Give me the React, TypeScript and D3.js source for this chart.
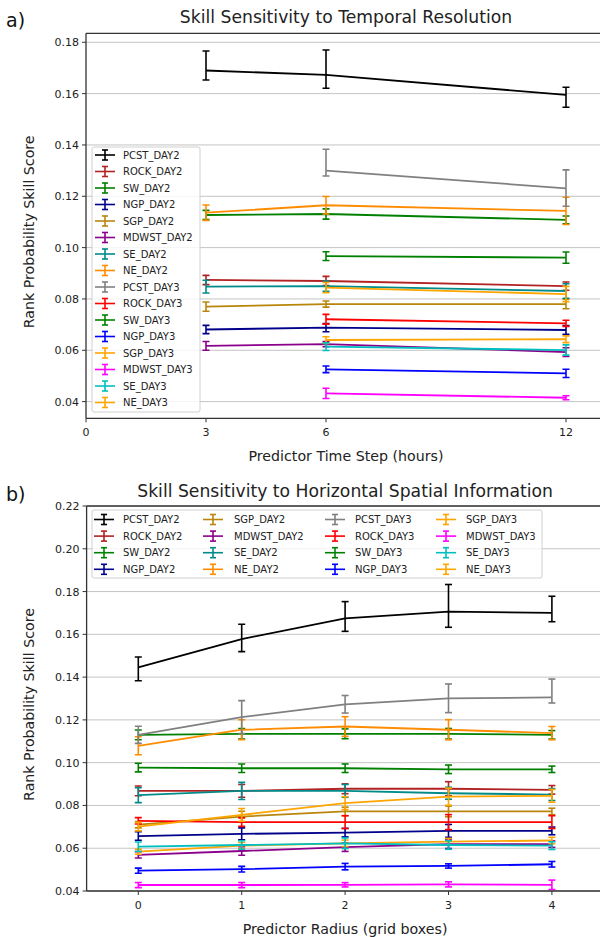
import React from "react";
import * as d3 from "d3";

const FONT = "'DejaVu Sans', sans-serif";

// series, same order in both panels
const seriesNames = [
  "PCST_DAY2", "ROCK_DAY2", "SW_DAY2", "NGP_DAY2", "SGP_DAY2", "MDWST_DAY2", "SE_DAY2", "NE_DAY2",
  "PCST_DAY3", "ROCK_DAY3", "SW_DAY3", "NGP_DAY3", "SGP_DAY3", "MDWST_DAY3", "SE_DAY3", "NE_DAY3",
];
const seriesColors = [
  "#000000", "#b22222", "#008000", "#00008b", "#b8860b", "#8b008b", "#008b8b", "#ff8c00",
  "#808080", "#ff0000", "#008000", "#0000ff", "#ffa500", "#ff00ff", "#00bfbf", "#ffa500",
];

type Err = number | [number, number]; // symmetric, or [down, up]

// panel a) predictor time step (hours)
const timeSteps = [3, 6, 12];
const timeTicks = [0, 3, 6, 12];
const timeVals: (number | null)[][] = [
  [0.169, 0.1673, 0.1595],
  [0.0874, 0.087, 0.085],
  [0.1127, 0.1131, 0.1108],
  [0.0681, 0.0688, 0.0679],
  [0.077, 0.078, 0.078],
  [0.0617, 0.0624, 0.0593],
  [0.0848, 0.085, 0.0831],
  [0.1136, 0.1165, 0.1143],
  [null, 0.13, 0.1231],
  [null, 0.0721, 0.0705],
  [null, 0.0967, 0.0961],
  [null, 0.0526, 0.051],
  [null, 0.064, 0.0643],
  [null, 0.0432, 0.0415],
  [null, 0.0614, 0.0601],
  [null, 0.0844, 0.0819],
];
const timeErrs: Err[][] = [
  [[0.0037, 0.0076], [0.0052, 0.0097], [0.0048, 0.003]],
  [0.0018, 0.0018, 0.0016],
  [0.0018, 0.002, 0.0015],
  [0.0016, 0.0016, 0.0017],
  [0.0018, 0.0012, 0.0018],
  [0.0017, 0.001, 0.0017],
  [0.0025, 0.002, 0.0028],
  [0.003, 0.0034, 0.0053],
  [0, [0.0021, 0.0083], [0.007, 0.0072]],
  [0, 0.0019, 0.0012],
  [0, 0.0017, 0.0022],
  [0, 0.0013, 0.0016],
  [0, 0.0013, 0.0013],
  [0, 0.002, 0.0008],
  [0, 0.0015, 0.002],
  [0, 0.002, 0.003],
];

// panel b) predictor radius (grid boxes)
const radii = [0, 1, 2, 3, 4];
const radiusVals: number[][] = [
  [0.1446, 0.1578, 0.1675, 0.1706, 0.17],
  [0.0868, 0.0868, 0.0878, 0.0878, 0.0873],
  [0.113, 0.1135, 0.1135, 0.1135, 0.113],
  [0.0657, 0.0667, 0.0673, 0.0681, 0.0681],
  [0.071, 0.0748, 0.0772, 0.0772, 0.0772],
  [0.0569, 0.0587, 0.0605, 0.0619, 0.0619],
  [0.0848, 0.0868, 0.0868, 0.0857, 0.0851],
  [0.1079, 0.1154, 0.1169, 0.1154, 0.1138],
  [0.113, 0.1213, 0.1273, 0.1301, 0.1305],
  [0.0728, 0.0722, 0.0722, 0.0722, 0.0722],
  [0.0977, 0.0974, 0.0974, 0.0969, 0.0969],
  [0.0495, 0.0502, 0.0514, 0.0517, 0.0525],
  [0.0584, 0.0612, 0.0623, 0.0631, 0.0636],
  [0.0428, 0.0428, 0.0429, 0.0431, 0.0429],
  [0.0607, 0.0615, 0.0623, 0.0615, 0.0612],
  [0.0701, 0.0756, 0.0811, 0.0841, 0.0845],
];
const radiusErrs: Err[][] = [
  [[0.0063, 0.0048], [0.0059, 0.0069], [0.0061, 0.0078], [0.0073, 0.0127], [0.0041, 0.0078]],
  [0.0023, 0.003, 0.0023, 0.0033, 0.002],
  [0.0023, 0.0025, 0.0023, 0.0025, 0.002],
  [0.002, 0.0028, 0.002, 0.003, 0.0018],
  [0.0015, 0.0025, 0.002, 0.0025, 0.0015],
  [0.0015, 0.002, 0.002, 0.002, 0.0015],
  [0.0035, 0.004, 0.003, 0.0028, 0.0028],
  [0.0042, 0.0047, 0.0046, 0.0047, 0.0031],
  [0.004, 0.0077, 0.0041, 0.0067, [0.0026, 0.0086]],
  [0.0015, 0.002, 0.003, 0.0035, 0.003],
  [0.002, 0.002, 0.002, 0.002, 0.0015],
  [0.0012, 0.0013, 0.0015, 0.001, 0.0013],
  [0.0012, 0.0015, 0.0015, 0.0015, 0.0015],
  [0.0012, 0.0012, 0.001, 0.0012, 0.0022],
  [0.0022, 0.002, 0.0025, 0.002, 0.0018],
  [0.002, 0.003, 0.003, 0.004, 0.003],
];

const yTicksA = [0.04, 0.06, 0.08, 0.1, 0.12, 0.14, 0.16, 0.18];
const yTicksB = [0.04, 0.06, 0.08, 0.1, 0.12, 0.14, 0.16, 0.18, 0.2, 0.22];

type Legend = {
  box: [number, number, number, number];
  items: { x: number; y: number; tx: number }[];
};

type PanelProps = {
  id: string;
  tag: string;
  tagY: number;
  title: string;
  titleY: number;
  xlabel: string;
  xs: number[];
  xTicks: number[];
  vals: (number | null)[][];
  errs: Err[][];
  xDomain: [number, number];
  xRange: [number, number];
  yDomain: [number, number];
  yRange: [number, number];
  yTicks: number[];
  legend: Legend;
};

const fmt = d3.format(".2f");

function Handle({ x, y, color }: { x: number; y: number; color: string }) {
  const cx = x + 10;
  return (
    <g stroke={color} strokeWidth={1.6}>
      <line x1={x} x2={x + 20} y1={y} y2={y} />
      <line x1={cx} x2={cx} y1={y - 5} y2={y + 5} />
      <line x1={cx - 3} x2={cx + 3} y1={y - 5} y2={y - 5} />
      <line x1={cx - 3} x2={cx + 3} y1={y + 5} y2={y + 5} />
    </g>
  );
}

function Panel(p: PanelProps) {
  const x = d3.scaleLinear().domain(p.xDomain).range(p.xRange);
  const y = d3.scaleLinear().domain(p.yDomain).range(p.yRange);
  const [x0, x1] = p.xRange;
  const [yb, yt] = p.yRange;
  const cx = (x0 + x1) / 2;
  const line = d3
    .line<number | null>()
    .defined((d) => d != null)
    .x((_, i) => x(p.xs[i]))
    .y((d) => y(d as number));
  const [bx, by, bw, bh] = p.legend.box;

  return (
    <g fontFamily={FONT}>
      <defs>
        <clipPath id={`clip-${p.id}`}>
          <rect x={x0} y={yt} width={x1 - x0} height={yb - yt} />
        </clipPath>
      </defs>
      {/* grid */}
      {p.yTicks.map((t) => (
        <line key={t} x1={x0} x2={x1} y1={y(t)} y2={y(t)} stroke="#c4c4c4" strokeWidth={1} />
      ))}
      {/* series */}
      <g clipPath={`url(#clip-${p.id})`} fill="none">
        {p.vals.map((vals, si) => {
          const c = seriesColors[si];
          return (
            <g key={si} stroke={c}>
              <path d={line(vals) || ""} strokeWidth={1.8} />
              {vals.map((v, i) => {
                if (v == null) return null;
                const e = p.errs[si][i];
                const [dn, up] = typeof e === "number" ? [e, e] : e;
                const px = x(p.xs[i]);
                const y1 = y(v + up);
                const y2 = y(v - dn);
                return (
                  <g key={i} strokeWidth={1.6}>
                    <line x1={px} x2={px} y1={y1} y2={y2} />
                    <line x1={px - 3.5} x2={px + 3.5} y1={y1} y2={y1} />
                    <line x1={px - 3.5} x2={px + 3.5} y1={y2} y2={y2} />
                  </g>
                );
              })}
            </g>
          );
        })}
      </g>
      {/* spines */}
      <g stroke="#333" strokeWidth={1.3} fill="none">
        <line x1={x0} x2={x0} y1={yt} y2={yb} />
        <line x1={x0} x2={x1} y1={yb} y2={yb} />
        <line x1={x0} x2={x1} y1={yt} y2={yt} />
        <line x1={x1} x2={x1} y1={yt} y2={yb} />
      </g>
      {/* y ticks */}
      {p.yTicks.map((t) => (
        <g key={t}>
          <line x1={x0 - 4} x2={x0} y1={y(t)} y2={y(t)} stroke="#333" strokeWidth={1} />
          <text x={x0 - 7} y={y(t) + 4} textAnchor="end" fontSize={11} fill="#222">
            {fmt(t)}
          </text>
        </g>
      ))}
      {/* x ticks */}
      {p.xTicks.map((t) => (
        <g key={t}>
          <line x1={x(t)} x2={x(t)} y1={yb} y2={yb + 4} stroke="#333" strokeWidth={1} />
          <text x={x(t)} y={yb + 18} textAnchor="middle" fontSize={11} fill="#222">
            {t}
          </text>
        </g>
      ))}
      <text x={cx} y={yb + 43} textAnchor="middle" fontSize={14.2} fill="#222">
        {p.xlabel}
      </text>
      <text
        transform={`translate(34,${(yt + yb) / 2 + 6}) rotate(-90)`}
        textAnchor="middle"
        fontSize={14.2}
        fill="#222"
      >
        Rank Probability Skill Score
      </text>
      <text x={cx} y={p.titleY} textAnchor="middle" fontSize={17.2} fill="#222">
        {p.title}
      </text>
      <text x={6} y={p.tagY} fontSize={19} fill="#111">
        {p.tag}
      </text>
      {/* legend */}
      <rect x={bx} y={by} width={bw} height={bh} rx={2} fill="#fff" fillOpacity={0.8} stroke="#d0d0d0" />
      {p.legend.items.map((it, i) => (
        <g key={i}>
          <Handle x={it.x} y={it.y} color={seriesColors[i]} />
          <text x={it.tx} y={it.y + 3.6} fontSize={10} fill="#222">
            {seriesNames[i]}
          </text>
        </g>
      ))}
    </g>
  );
}

const legendA: Legend = {
  box: [92, 147, 108, 265],
  items: seriesNames.map((_, i) => ({ x: 95, y: 155 + i * 16.5, tx: 123 })),
};

const colX = [94, 203, 325, 436];
const colTx = [123, 234, 355, 466];
const legendB: Legend = {
  box: [92, 510, 450, 68],
  items: seriesNames.map((_, i) => {
    const c = Math.floor(i / 4);
    const r = i % 4;
    return { x: colX[c], y: 519.5 + r * 16.6, tx: colTx[c] };
  }),
};

export default function App() {
  return (
    <svg
      width={600}
      height={937}
      style={{ position: "absolute", left: 0, top: 0, background: "#fff" }}
    >
      <rect width={600} height={937} fill="#fff" />
      <Panel
        id="a"
        tag="a)"
        tagY={27}
        title="Skill Sensitivity to Temporal Resolution"
        titleY={23}
        xlabel="Predictor Time Step (hours)"
        xs={timeSteps}
        xTicks={timeTicks}
        vals={timeVals}
        errs={timeErrs}
        xDomain={[0, 13]}
        xRange={[86, 606]}
        yDomain={[0.0335, 0.1835]}
        yRange={[418.3, 33.3]}
        yTicks={yTicksA}
        legend={legendA}
      />
      <Panel
        id="b"
        tag="b)"
        tagY={501}
        title="Skill Sensitivity to Horizontal Spatial Information"
        titleY={497}
        xlabel="Predictor Radius (grid boxes)"
        xs={radii}
        xTicks={radii}
        vals={radiusVals}
        errs={radiusErrs}
        xDomain={[-0.5, 4.5]}
        xRange={[86.6, 603.6]}
        yDomain={[0.04, 0.22]}
        yRange={[891, 506]}
        yTicks={yTicksB}
        legend={legendB}
      />
    </svg>
  );
}
